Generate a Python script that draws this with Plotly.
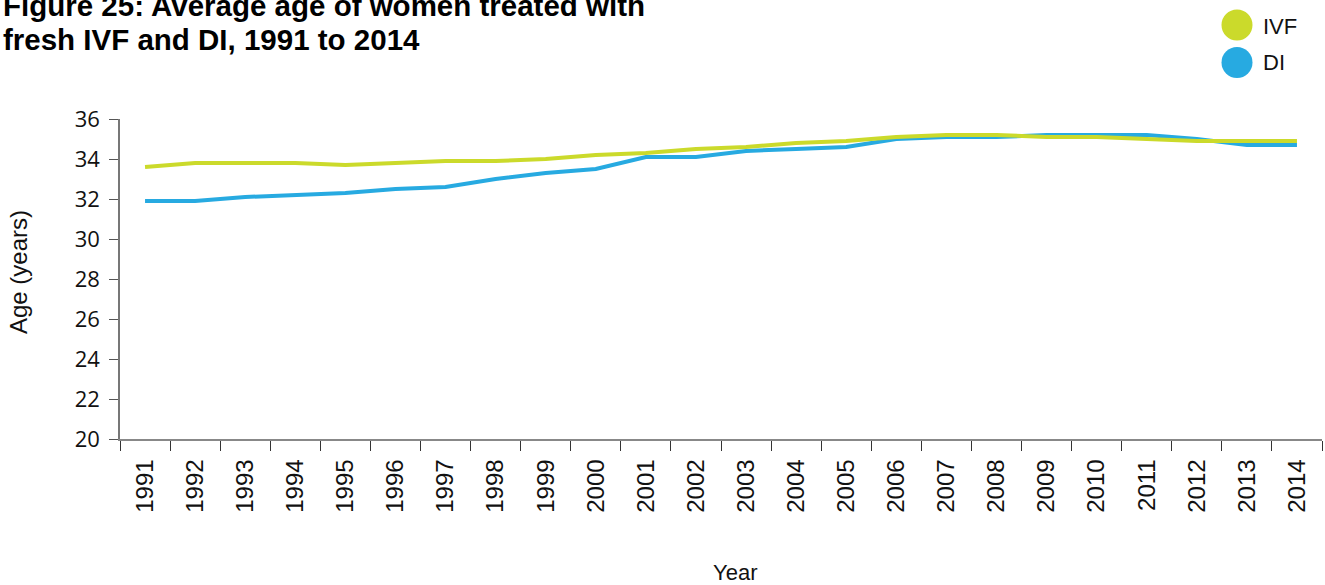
import plotly.graph_objects as go

years = [str(y) for y in range(1991, 2015)]
ivf = [33.6, 33.8, 33.8, 33.8, 33.7, 33.8, 33.9, 33.9, 34.0, 34.2, 34.3, 34.5,
       34.6, 34.8, 34.9, 35.1, 35.2, 35.2, 35.1, 35.1, 35.0, 34.9, 34.9, 34.9]
di = [31.9, 31.9, 32.1, 32.2, 32.3, 32.5, 32.6, 33.0, 33.3, 33.5, 34.1, 34.1,
      34.4, 34.5, 34.6, 35.0, 35.1, 35.1, 35.2, 35.2, 35.2, 35.0, 34.7, 34.7]
y_ticks = [20, 22, 24, 26, 28, 30, 32, 34, 36]

IVF_COLOR = "#cbda2b"
DI_COLOR = "#27aae1"
FONT = "Liberation Sans"

fig = go.Figure()
fig.add_trace(go.Scatter(x=years, y=di, mode="lines", name="DI",
                         line=dict(color=DI_COLOR, width=4), showlegend=False))
fig.add_trace(go.Scatter(x=years, y=ivf, mode="lines", name="IVF",
                         line=dict(color=IVF_COLOR, width=4), showlegend=False))

W, H = 1325, 585
ML, MR, MT, MB = 120, 3, 119, 146
PW, PH = W - ML - MR, H - MT - MB


def px(x):
    return (x - ML) / PW


def py(y):
    return 1 - (y - MT) / PH


fig.update_layout(
    width=W, height=H,
    margin=dict(l=ML, r=MR, t=MT, b=MB, autoexpand=False),
    plot_bgcolor="white", paper_bgcolor="white",
    font=dict(family=FONT, color="#111111"),
    xaxis=dict(
        type="category", range=[-0.5, 23.5],
        showline=True, linecolor="#888888", linewidth=1.5,
        ticks="outside", tickson="boundaries", ticklen=10, tickcolor="#333333",
        tickwidth=1.2, tickangle=-90, showgrid=False, zeroline=False,
        tickfont=dict(family=FONT, size=24, color="#111111"),
        ticklabelstandoff=9,
    ),
    yaxis=dict(
        range=[20, 36], tickvals=y_ticks,
        showline=True, linecolor="#777777", linewidth=1.5,
        ticks="outside", ticklen=9, tickcolor="#555555", tickwidth=1.2,
        showgrid=False, zeroline=False,
        tickfont=dict(family="Open Sans", size=22, color="#111111"),
        ticklabelstandoff=5,
    ),
)

annotations = [
    dict(text="<b>Figure 25: Average age of women treated with</b>", x=px(1), y=py(5),
         xanchor="left", yanchor="middle", font=dict(size=29.5, family=FONT, color="#000000")),
    dict(text="<b>fresh IVF and DI, 1991 to 2014</b>", x=px(1), y=py(39),
         xanchor="left", yanchor="middle", font=dict(size=29.5, family=FONT, color="#000000")),
    dict(text="Year", x=px(735), y=py(572), xanchor="center", yanchor="middle",
         font=dict(size=22, family=FONT, color="#111111")),
    dict(text="Age (years)", x=px(18), y=py(272), xanchor="center", yanchor="middle",
         textangle=-90, font=dict(size=24, family=FONT, color="#111111")),
    dict(text="IVF", x=px(1261), y=py(26), xanchor="left", yanchor="middle",
         font=dict(size=22, family=FONT, color="#111111")),
    dict(text="DI", x=px(1261), y=py(63), xanchor="left", yanchor="middle",
         font=dict(size=22, family=FONT, color="#111111")),
]
for a in annotations:
    a.update(xref="paper", yref="paper", showarrow=False)
fig.update_layout(annotations=annotations)

r = 15.5
shapes = []
for cy, col in [(25, IVF_COLOR), (62.5, DI_COLOR)]:
    shapes.append(dict(type="circle", xref="paper", yref="paper",
                       x0=px(1237 - r), x1=px(1237 + r), y0=py(cy + r), y1=py(cy - r),
                       fillcolor=col, line=dict(width=0)))
fig.update_layout(shapes=shapes)

fig.write_html("out.html", config={"displayModeBar": False},
               post_script="document.body.style.margin='0';document.body.style.overflow='hidden';")
